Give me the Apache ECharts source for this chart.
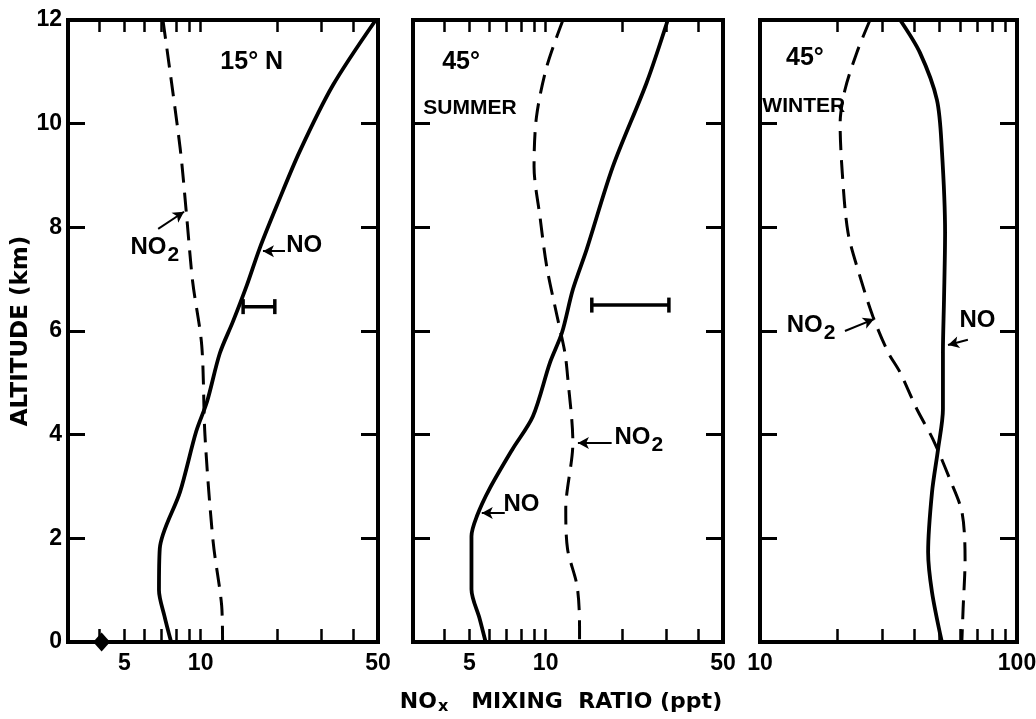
<!DOCTYPE html>
<html><head><meta charset="utf-8">
<script src="https://cdn.jsdelivr.net/npm/echarts@6/dist/echarts.min.js"></script>
<style>html,body{margin:0;padding:0;background:#fff}#c{width:1036px;height:719px}</style>
</head><body><div id="c"></div>
<script>
// ---------- DATA (altitude in km, mixing ratio in ppt) ----------
// Panel 1: 15° N
const p1NoAlt  = [12, 10.74, 9.47, 8.43, 7.6, 6.88, 6.18, 5.57, 4.64, 4.06, 2.9, 1.8, 1.0, 0.5, 0];
const p1NoVal  = [49, 33.2, 24.6, 20.0, 17.1, 15.2, 13.4, 11.9, 10.6, 9.6, 8.3, 6.9, 6.85, 7.2, 7.65];
const p1No2Alt = [12, 9.53, 8.23, 6.95, 5.72, 3.98, 1.93, 0.7, 0];
const p1No2Val = [7.1, 8.3, 8.8, 9.3, 10.1, 10.4, 11.2, 12.1, 12.2];
const p1ErrAlt = 6.47, p1ErrLo = 14.7, p1ErrHi = 19.6;
const p1Point  = [4.07, 0];
// Panel 2: 45° summer
const p2NoAlt  = [12, 10.79, 9.17, 7.57, 6.8, 5.97, 5.39, 4.35, 3.72, 2.95, 2.43, 2.04, 1.02, 0.44, 0];
const p2NoVal  = [30.3, 25.0, 18.4, 14.5, 12.8, 11.6, 10.4, 8.9, 7.4, 6.0, 5.36, 5.1, 5.1, 5.5, 5.8];
const p2No2Alt = [12, 11.1, 10.13, 9.17, 8.2, 7.24, 6.28, 5.59, 5.13, 3.85, 2.56, 1.79, 1.08, 0.31, 0];
const p2No2Val = [11.7, 10.1, 9.2, 9.0, 9.5, 10.1, 11.1, 11.9, 12.2, 12.8, 12.0, 12.2, 13.3, 13.6, 13.6];
const p2ErrAlt = 6.5, p2ErrLo = 15.2, p2ErrHi = 30.6;
// Panel 3: 45° winter
const p3NoAlt  = [12, 11.37, 10.46, 9.5, 7.9, 6.61, 5.59, 4.49, 3.72, 2.89, 1.73, 0.96, 0];
const p3NoVal  = [35.1, 41.9, 48.8, 51.0, 52.5, 52.0, 51.5, 51.5, 49.3, 46.7, 45.1, 46.7, 51.0];
const p3No2Alt = [12, 11.37, 10.65, 10.0, 9.05, 7.9, 7.05, 6.28, 5.59, 5.2, 4.49, 3.91, 3.14, 2.5, 1.6, 0.64, 0];
const p3No2Val = [26.8, 23.8, 21.4, 20.5, 20.9, 22.0, 24.5, 27.5, 31.5, 35.1, 40.8, 47.1, 54.8, 61.1, 62.8, 61.7, 61.0];

// Axis ranges and tick values
const xRange12 = [3, 50], xRange3 = [10, 100];
const xTicks12 = [4, 5, 6, 7, 8, 9, 10, 20, 30, 40];
const xTicks3  = [20, 30, 40, 50, 60, 70, 80, 90];
const xLabels12 = [5, 10, 50];
const xLabels3  = [10, 100];
const yMin = 0, yMax = 12, yStep = 2;

// Text
const yTitle = 'ALTITUDE (km)';
const panelTitles = ['15° N', '45°', '45°'];
const seasonLabels = ['', 'SUMMER', 'WINTER'];

// ---------- CHART ----------
const NUMF = '"Liberation Sans", Arial, sans-serif';
const TXTF = '"Liberation Sans", Arial, sans-serif';
const grids = [
  {left: 68, top: 20, width: 310, height: 622},
  {left: 413, top: 20, width: 310, height: 622},
  {left: 760, top: 20, width: 257, height: 622}
].map(g => Object.assign({outerBoundsMode: 'none', containLabel: false}, g));

const axLine = {show: true, onZero: false, lineStyle: {color: '#000', width: 4, cap: 'square'}};
const numLabel = {color: '#000', fontFamily: NUMF, fontWeight: 'bold', fontSize: 23};

const xAxis = [], yAxis = [];
[[xRange12, xTicks12, xLabels12], [xRange12, xTicks12, xLabels12], [xRange3, xTicks3, xLabels3]].forEach((p, gi) => {
  const [rng, ticks, labels] = p;
  xAxis.push({type: 'log', logBase: 10, gridIndex: gi, position: 'bottom', min: rng[0], max: rng[1],
    axisLine: axLine,
    axisTick: {show: true, inside: true, length: 13, customValues: ticks, lineStyle: {color: '#000', width: 2.5}},
    axisLabel: Object.assign({show: true, customValues: labels, margin: 10,
      formatter: v => String(Math.round(v))}, numLabel),
    splitLine: {show: false}});
  xAxis.push({type: 'log', logBase: 10, gridIndex: gi, position: 'top', min: rng[0], max: rng[1],
    axisLine: axLine,
    axisTick: {show: true, inside: true, length: 12, customValues: ticks, lineStyle: {color: '#000', width: 2.5}},
    axisLabel: {show: false}, splitLine: {show: false}});
  yAxis.push(Object.assign({type: 'value', gridIndex: gi, position: 'left', min: yMin, max: yMax, interval: yStep,
    axisLine: axLine,
    axisTick: {show: true, inside: true, length: 17, lineStyle: {color: '#000', width: 3}},
    axisLabel: Object.assign({show: gi === 0, margin: 6}, numLabel),
    splitLine: {show: false}}, gi === 0 ? {
      name: yTitle, nameLocation: 'middle', nameRotate: 90, nameGap: 31,
      nameTextStyle: {color: '#000', fontFamily: '"DejaVu Sans", sans-serif', fontWeight: 'bold', fontSize: 23}
    } : {}));
  yAxis.push({type: 'value', gridIndex: gi, position: 'right', min: yMin, max: yMax, interval: yStep,
    axisLine: axLine,
    axisTick: {show: true, inside: true, length: 17, lineStyle: {color: '#000', width: 3}},
    axisLabel: {show: false}, splitLine: {show: false}});
});

const pairs = (vals, alts) => alts.map((a, i) => [vals[i], a]);
const noRich = {
  n: {fontFamily: TXTF, fontWeight: 'bold', fontSize: 24, color: '#000', padding: [0, 0, 8, 0]},
  s: {fontFamily: TXTF, fontWeight: 'bold', fontSize: 21, color: '#000', padding: [8, 0, 0, 1]}
};
function txt(coord, text, opts) {
  return {coord, value: text, symbolSize: 0,
    label: Object.assign({show: true, position: 'inside', formatter: text, color: '#000',
      fontFamily: TXTF, fontWeight: 'bold', fontSize: 24, rich: noRich}, opts || {})};
}
function arrow(from, to, curv) {
  return [{coord: from, symbol: 'none'}, {coord: to, symbol: 'arrow', symbolSize: [9, 11],
    lineStyle: {curveness: curv || 0}}];
}
function profile(gi, vals, alts, dashed, ann) {
  const s = {type: 'line', xAxisIndex: gi * 2, yAxisIndex: gi * 2, data: pairs(vals, alts),
    showSymbol: false, smooth: 0.3, silent: true,
    lineStyle: {color: '#000', width: dashed ? 3 : 3.8, type: dashed ? [19, 10] : 'solid'}};
  if (ann) {
    s.markPoint = {silent: true, symbol: 'circle', itemStyle: {color: 'rgba(0,0,0,0)'}, data: ann.texts};
    s.markLine = {silent: true, symbol: ['none', 'arrow'], label: {show: false},
      lineStyle: {color: '#000', width: 2, type: 'solid'}, data: ann.arrows};
  }
  return s;
}
function errBar(gi, alt, lo, hi) {
  return {type: 'line', xAxisIndex: gi * 2, yAxisIndex: gi * 2, data: [[lo, alt], [hi, alt]],
    showSymbol: true, symbol: 'rect', symbolSize: [3.5, 15], silent: true,
    itemStyle: {color: '#000'}, lineStyle: {color: '#000', width: 3.5}};
}
const condensed = {fontFamily: TXTF, fontSize: 21};

const series = [
  profile(0, p1NoVal, p1NoAlt, false, {
    texts: [txt([15.9, 11.19], panelTitles[0], {fontSize: 25}),
            txt([25.6, 7.58], '{n|NO}')],
    arrows: [arrow([21.5, 7.54], [17.6, 7.54])]}),
  profile(0, p1No2Val, p1No2Alt, true, {
    texts: [txt([6.6, 7.53], '{n|NO}{s|2}')],
    arrows: [arrow([6.8, 7.97], [8.6, 8.30], -0.3)]}),
  errBar(0, p1ErrAlt, p1ErrLo, p1ErrHi),
  {type: 'scatter', xAxisIndex: 0, yAxisIndex: 0, data: [p1Point], symbol: 'diamond',
    symbolSize: [17, 19], clip: false, silent: true, itemStyle: {color: '#000', opacity: 1}, z: 5},

  profile(1, p2NoVal, p2NoAlt, false, {
    texts: [txt([4.64, 11.19], panelTitles[1], {fontSize: 25}),
            txt([5.03, 10.30], seasonLabels[1], condensed),
            txt([8.03, 2.58], '{n|NO}')],
    arrows: [arrow([6.9, 2.49], [5.6, 2.49])]}),
  profile(1, p2No2Val, p2No2Alt, true, {
    texts: [txt([23.3, 3.88], '{n|NO}{s|2}')],
    arrows: [arrow([18.2, 3.84], [13.4, 3.84])]}),
  errBar(1, p2ErrAlt, p2ErrLo, p2ErrHi),

  profile(2, p3NoVal, p3NoAlt, false, {
    texts: [txt([14.96, 11.27], panelTitles[2], {fontSize: 25}),
            txt([14.8, 10.34], seasonLabels[2], condensed),
            txt([70.2, 6.12], '{n|NO}')],
    arrows: [arrow([64.4, 5.83], [53.9, 5.73])]}),
  profile(2, p3No2Val, p3No2Alt, true, {
    texts: [txt([15.8, 6.04], '{n|NO}{s|2}')],
    arrows: [arrow([21.4, 6.0], [27.8, 6.23], 0.15)]})
];

const chart = echarts.init(document.getElementById('c'), null, {renderer: 'canvas'});
chart.setOption({
  animation: false,
  backgroundColor: '#fff',
  title: {text: '{a|NO}{b|x}{a|   MIXING  RATIO (ppt)}', left: 556, top: 684, textAlign: 'center',
    textStyle: {rich: {
      a: {fontFamily: '"DejaVu Sans", sans-serif', fontWeight: 'bold', fontSize: 22, color: '#000'},
      b: {fontFamily: '"DejaVu Sans", sans-serif', fontWeight: 'bold', fontSize: 16, color: '#000', padding: [10, 0, 0, 1]}
    }}},
  grid: grids, xAxis, yAxis, series
});
</script></body></html>
